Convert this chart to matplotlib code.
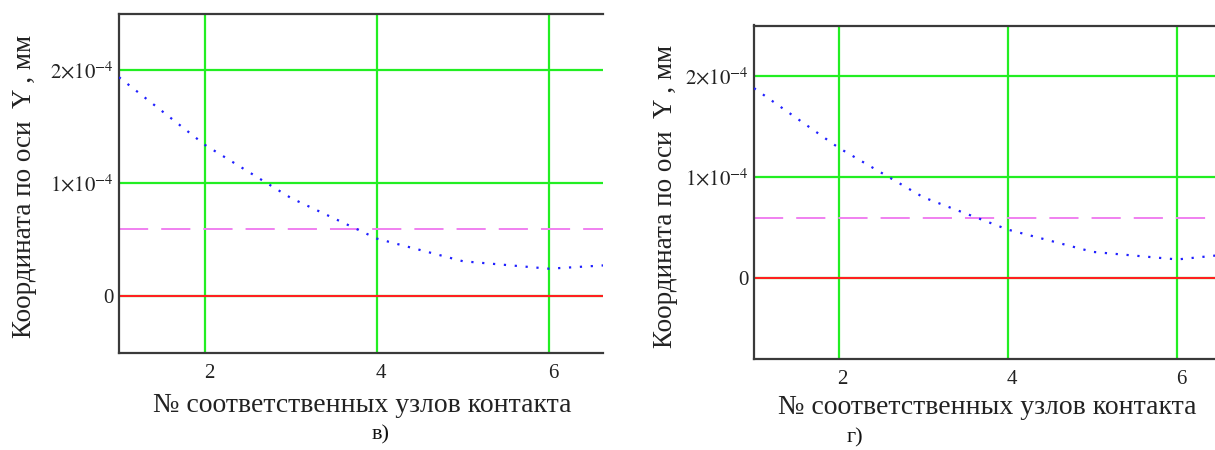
import matplotlib
matplotlib.use("Agg")
import matplotlib.pyplot as plt
from matplotlib.ticker import FixedLocator, FixedFormatter
from matplotlib.transforms import ScaledTranslation

plt.rcParams['font.family'] = ['Liberation Serif', 'DejaVu Serif']
plt.rcParams['mathtext.fontset'] = 'stix'

# ---- data ----
nodes = [1, 2, 3, 4, 5, 6, 7]
y_v = [1.94e-4, 1.34e-4, 0.87e-4, 0.51e-4, 0.31e-4, 0.244e-4, 0.29e-4]   # panel в)
y_g = [1.88e-4, 1.29e-4, 0.80e-4, 0.48e-4, 0.26e-4, 0.185e-4, 0.27e-4]  # panel г)
limit_level = 0.6e-4
zero_level = 0.0
x_ticks = [2, 4, 6]
x_tick_labels = ["2", "4", "6"]
y_ticks = [0, 1e-4, 2e-4]
y_tick_labels = ["0", r"$1{\times}10^{-4}$", r"$2{\times}10^{-4}$"]
y_label = "Координата по оси  Y , мм"
x_label = "№ соответственных узлов контакта"
captions = ["в)", "г)"]

W, H = 1215, 450
fig = plt.figure(figsize=(W / 100, H / 100), dpi=100)


def px_axes(x0, y0, x1, y1):
    return fig.add_axes([x0 / W, 1 - y1 / H, (x1 - x0) / W, (y1 - y0) / H])


def draw_panel(ax, y, xlim, ylim):
    ax.set_xlim(*xlim)
    ax.set_ylim(*ylim)
    ax.xaxis.set_major_locator(FixedLocator(x_ticks))
    ax.xaxis.set_major_formatter(FixedFormatter(x_tick_labels))
    ax.yaxis.set_major_locator(FixedLocator(y_ticks))
    ax.yaxis.set_major_formatter(FixedFormatter(y_tick_labels))
    ax.grid(True, color='#22ee22', lw=1.6, zorder=1)
    ax.set_axisbelow(True)
    ax.axhline(zero_level, color='#ff2020', lw=1.5, zorder=2)
    ax.axhline(limit_level, color='#f080f0', lw=1.4, ls=(0, (15, 6.7)), zorder=2)
    ax.plot(nodes, y, color='#2020ff', lw=1.6, ls=(0, (1, 3.9)),
            dash_capstyle='butt', zorder=3, clip_on=True)
    ax.tick_params(length=0, labelsize=15, colors='#222222')
    ax.tick_params(axis='x', pad=8)
    ax.tick_params(axis='y', pad=4)
    off = ScaledTranslation(4 / 100, 0, fig.dpi_scale_trans)
    for lab in ax.get_xticklabels():
        lab.set_transform(lab.get_transform() + off)
    for s in ['left', 'top', 'bottom']:
        ax.spines[s].set_color('#3a3a3a')
        ax.spines[s].set_linewidth(1.6)
    ax.spines['right'].set_visible(False)


ax1 = px_axes(119, 14, 603, 352.7)
draw_panel(ax1, y_v, (1, 1 + (603 - 119) / 86.0), (-0.5e-4, 2.5e-4))

ax2 = px_axes(754, 25.5, 1215, 359)
draw_panel(ax2, y_g, (1, 1 + (1215 - 753.5) / 84.75), (-0.8e-4, 2.5e-4))


def ftext(x, y, s, **kw):
    fig.text(x / W, 1 - y / H, s, **kw)


ftext(25, 186, y_label, rotation=90, ha='center', va='center', fontsize=19.5, color='#222222')
ftext(666, 196, y_label, rotation=90, ha='center', va='center', fontsize=19.5, color='#222222')
ftext(362, 405, x_label, ha='center', va='center', fontsize=20, color='#222222')
ftext(987, 408, x_label, ha='center', va='center', fontsize=20, color='#222222')
ftext(381, 435, captions[0], ha='center', va='center', fontsize=16, color='#111111')
ftext(855, 438, captions[1], ha='center', va='center', fontsize=16, color='#111111')

fig.savefig("out.png", dpi=100)
